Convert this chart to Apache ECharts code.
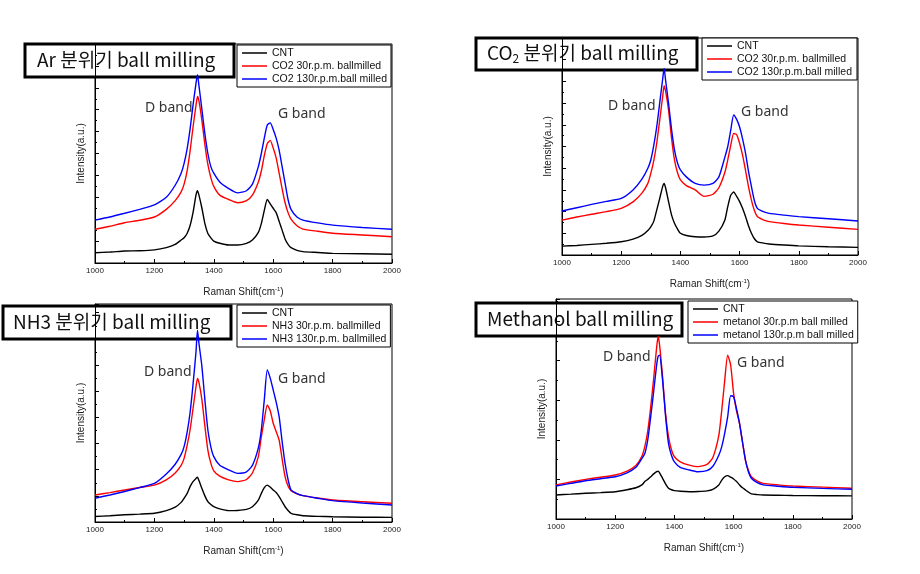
<!DOCTYPE html>
<html>
<head>
<meta charset="utf-8">
<script src="https://cdn.jsdelivr.net/npm/echarts@6/dist/echarts.min.js"></script>
<style>html,body{margin:0;padding:0;background:#fff}#c{width:920px;height:574px}</style>
</head>
<body>
<div id="c"></div>
<script>
// Raman shift grid (cm-1)
const ramanShift = [1000,1050,1100,1150,1200,1240,1270,1290,1300,1310,1320,1330,1340,1345,1350,1360,1370,1380,1390,1400,1420,1450,1480,1510,1530,1550,1560,1570,1580,1590,1600,1610,1620,1630,1640,1650,1660,1680,1700,1750,1800,1900,2000];
const xTickLabels = ['1000','1200','1400','1600','1800','2000'];

// Panel 1: Ar
const arCNT = [4.7,5.0,5.5,5.6,6.0,7.0,8.5,10.5,11.5,13.5,17,23,31,33,31,25,18,13.5,11.5,10,9,8.2,8.2,9,10.5,14,18,24,29,27,25,23,19,15,11,8.5,7,5.8,5.2,4.8,4.4,4.2,4.0];
const ar30 = [15.4,16.8,18.4,19.5,21,24.5,28.5,32.5,36,42,51,62,72,76,74,65,54,45,39,35,31,29,27.5,28.5,31,37,42,49,54.5,56,52.5,48,41,34,27.5,23,20,17,15.5,14.5,13.6,12.8,12];
const ar130 = [19.6,21,22.7,24.5,26.5,30,35.5,41,45.5,52,61,72,82,86,81,70,59,50,44,41,37,34,32,33,36,44,50,57,63,64,61,57,51.5,44,36.5,29,24.5,21,19.6,18.3,17.3,16.2,15.4];

// Panel 2: CO2
const co2CNT = [4.1,4.4,4.9,5.4,6.1,7.3,9,11.3,13,15.5,20.7,26,31.5,33,31,24.6,18.5,14.6,12,10,9,8.4,8.3,8.8,11,16,22.3,27.5,29,27,24.6,21.5,17.7,13.5,10,7.5,6.1,5.5,5.1,4.6,4.2,3.8,3.5];
const co230 = [16.1,17.5,18.8,20,21.5,24.5,28.5,33,37.6,43.5,51.5,62,73,78,75.5,66.8,54,43.8,38,34.6,32,30,27,28,31,38,43.8,50.5,56,55.5,51.5,46,39,31.5,25.3,20.5,17.7,16.2,15.4,14.5,13.8,12.8,11.8];
const co2130 = [20.3,21.8,23.3,24.7,26.1,30,35,40,43.8,50.5,59,70,81,86,80.5,69.9,58,48.4,42.5,39.2,36,33,32.2,33,36,45,50,57.5,64.5,62.5,59,53.5,46.9,38.5,31.5,25,21.5,20,19.2,18.4,17.7,16.7,15.7];

// Panel 3: NH3
const nh3CNT = [2.5,2.9,3.3,3.6,4,5.2,6.8,9,10.9,13,16.2,18.5,20,20.5,19,15.4,12,9.3,8,7,6,5.2,5.3,5.8,7,10,13.1,15.8,16.9,16,14.7,13.5,11.6,9.3,7,5.3,4,3.3,2.9,2.6,2.4,2.2,2.1];
const nh330 = [12.4,13.5,14.7,15.8,16.9,19.3,22.5,26,29.2,35,42.2,52,62,65.9,64,56,44,33,27,23.5,21,19.3,18.5,19.5,22.5,30,39.1,47,53.7,51,45.3,41.5,37.6,29,20.8,16.5,14.4,12.9,12.1,11,10.1,9.3,8.6];
const nh3130 = [10.9,12.4,14,15.8,17.7,22,26.5,31,34.6,41,50,63,78,88,82,71.3,56,42.2,34.5,30,26,23.9,22.3,23,26,34,42.2,56,69.7,66,60.6,55,48.3,37,26.9,19.5,14.7,13,12.1,10.9,9.8,8.7,7.8];

// Panel 4: Methanol
const meCNT = [10.9,11.3,11.7,12,12.4,13.3,14.2,15.5,17,18,19.2,20.5,21.5,21.7,21,18.5,16,14,13.3,12.9,12.6,12.4,12.5,12.8,13.5,15.5,17.7,19.2,19.7,19,18.2,17,15.5,14.2,13.2,12.2,11.4,11.1,10.9,10.8,10.7,10.6,10.5];
const me30 = [15.5,16.8,18,19,20,21.8,24.3,28.5,32.9,40,51,64,78,83,79,64.7,48,37.4,31.5,28.3,26,24.5,23.8,24.8,28,38,49.5,63,74.5,70,57.1,49,43.5,35,26.8,22,19.2,17.2,16.2,15.5,15,14.5,14];
const me130 = [15,16.2,17.4,18.3,19.2,21,23.5,27.5,29.8,36,46.5,58,70,74,74.5,63.2,47,34.4,29,26,23.5,22.3,21.5,22,24,29,32.9,39,46.5,56,55.6,50,43.5,35,26.8,21.5,18.5,16.5,15.5,14.9,14.4,13.9,13.5];

const panelTitles = ['Ar 분위기 ball milling', '{n|CO}{s|2}{n| 분위기 ball milling}', 'NH3 분위기 ball milling', 'Methanol ball milling'];
const legendNames = [
  ['CNT', 'CO2 30r.p.m. ballmilled', 'CO2 130r.p.m.ball milled'],
  ['CNT', 'CO2 30r.p.m. ballmilled', 'CO2 130r.p.m.ball milled'],
  ['CNT', 'NH3 30r.p.m. ballmilled', 'NH3 130r.p.m. ballmilled'],
  ['CNT', 'metanol 30r.p.m ball milled', 'metanol 130r.p.m ball milled']
];
const panelData = [[arCNT, ar30, ar130],[co2CNT, co230, co2130],[nh3CNT, nh330, nh3130],[meCNT, me30, me130]];
const bandLabels = ['D band', 'G band'];

// layout
const grids = [
  {left: 95, top: 44, width: 297, height: 219},
  {left: 562, top: 38, width: 296, height: 217},
  {left: 95, top: 304, width: 297, height: 218},
  {left: 556, top: 299, width: 296, height: 220}
];
const yIntervals = [10, 10, 12, 18];
const legendPos = [[237,45],[702,38],[237,305],[688,301]];
const legendTextW = [115, 116, 112, 129];
const titleBoxes = [[25,44,209,33,37,60],[476,38,221,32,487,53],[3,306,228,33,13,322],[476,303,206,33,487,319]];
const bandPos = [[[145,108],[278,114]],[[608,106],[741,112]],[[144,372],[278,379]],[[603,357],[737,363]]];
const colors = ['#000000', '#ff0000', '#0000ff'];
const FONT = 'Arial, "Liberation Sans", sans-serif';

const option = {
  animation: false,
  backgroundColor: '#fff',
  grid: grids.map(g => Object.assign({show: true, borderColor: '#000', borderWidth: 1, backgroundColor: 'transparent'}, g)),
  xAxis: grids.map((g, i) => ({
    gridIndex: i, type: 'value', min: 1000, max: 2000, interval: 200,
    name: 'Raman Shift(cm{sup|-1})', nameLocation: 'middle', nameGap: 23,
    nameTextStyle: {fontFamily: FONT, fontSize: 10, color: '#222', rich: {sup: {fontSize: 6, verticalAlign: 'top', padding: [0,0,6,0], color: '#222'}}},
    axisLine: {lineStyle: {color: '#000', width: 1}},
    axisTick: {inside: true, length: 4, lineStyle: {color: '#000'}},
    minorTick: {show: true, splitNumber: 2, length: 2, lineStyle: {color: '#000'}},
    axisLabel: {fontFamily: FONT, fontSize: 8, color: '#222', margin: 4,
      formatter: v => xTickLabels.indexOf(String(v)) >= 0 ? String(v) : ''},
    splitLine: {show: false}
  })),
  yAxis: grids.map((g, i) => ({
    gridIndex: i, type: 'value', min: 0, max: 100, interval: yIntervals[i],
    name: 'Intensity(a.u.)', nameLocation: 'middle', nameGap: 9,
    nameTextStyle: {fontFamily: FONT, fontSize: 10, color: '#222'},
    axisLine: {show: true, lineStyle: {color: '#000', width: 1}},
    axisTick: {inside: true, length: 4, lineStyle: {color: '#000'}},
    minorTick: {show: true, splitNumber: 2, length: 2, lineStyle: {color: '#000'}},
    axisLabel: {show: false},
    splitLine: {show: false}
  })),
  legend: legendNames.map((names, i) => ({
    orient: 'vertical', left: legendPos[i][0], top: legendPos[i][1],
    data: names, icon: 'rect', itemWidth: 25, itemHeight: 1.5, itemGap: 1,
    padding: [2, 4, 2, 5], backgroundColor: '#fff', borderColor: '#000', borderWidth: 1,
    textStyle: {fontFamily: FONT, fontSize: 10.5, lineHeight: 12, color: '#111', width: legendTextW[i], overflow: 'none'},
    selectedMode: false, z: 20
  })),
  series: [],
  graphic: []
};

panelData.forEach((sets, i) => {
  sets.forEach((vals, k) => {
    option.series.push({
      type: 'line', name: legendNames[i][k], xAxisIndex: i, yAxisIndex: i,
      data: ramanShift.map((x, j) => [x, vals[j]]),
      showSymbol: false, symbol: 'none', smooth: 0.2,
      lineStyle: {color: colors[k], width: 1.4}, itemStyle: {color: colors[k]},
      z: 2 + k, clip: true
    });
  });
});

titleBoxes.forEach((b, i) => {
  option.graphic.push({
    type: 'group', z: 100,
    children: [
      {type: 'rect', shape: {x: b[0], y: b[1], width: b[2], height: b[3]}, style: {fill: '#fff', stroke: '#000', lineWidth: 3}},
      {type: 'text', x: b[4], y: b[5], style: {text: panelTitles[i], fontFamily: '"Noto Sans CJK KR", sans-serif', fontSize: 19, fill: '#111', verticalAlign: 'middle',
        rich: {n: {fontFamily: '"Noto Sans CJK KR", sans-serif', fontSize: 19, fill: '#111'}, s: {fontFamily: '"Noto Sans CJK KR", sans-serif', fontSize: 12, fill: '#111', padding: [10,0,0,0]}}}}
    ]
  });
  bandPos[i].forEach((p, k) => {
    option.graphic.push({type: 'text', x: p[0], y: p[1], z: 90,
      style: {text: bandLabels[k], fontFamily: '"Noto Sans", sans-serif', fontSize: 14, fill: '#333', verticalAlign: 'middle'}});
  });
});

const chart = echarts.init(document.getElementById('c'));
chart.setOption(option);
</script>
</body>
</html>
